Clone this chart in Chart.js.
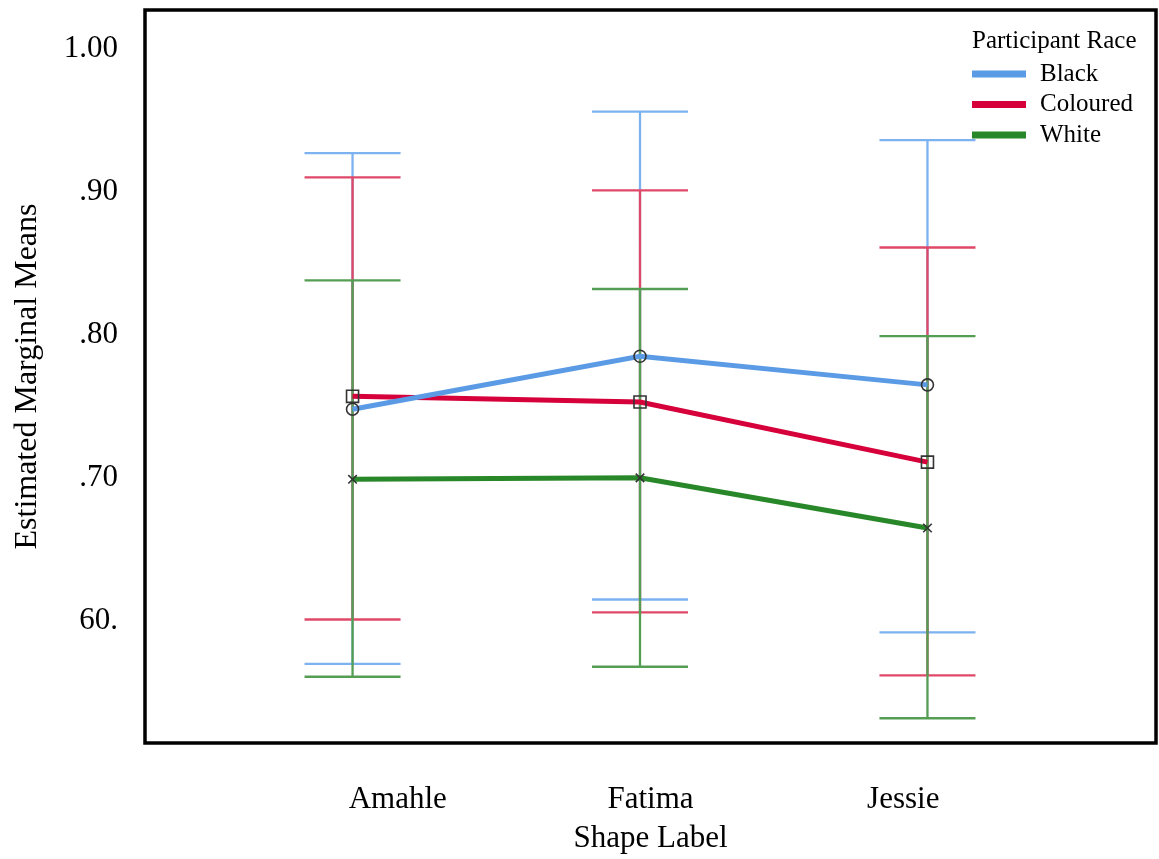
<!DOCTYPE html>
<html><head><meta charset="utf-8">
<script src="https://cdn.jsdelivr.net/npm/chart.js@4.4.1/dist/chart.umd.min.js"></script>
<style>html,body{margin:0;padding:0;background:#fff;} #wrap{position:relative;width:1159px;height:859px;}</style>
</head><body><div id="wrap"><canvas id="c" width="1159" height="859"></canvas></div>
<script>
// ---- data ----
const categories = ['Amahle', 'Fatima', 'Jessie'];
const seriesNames = ['Black', 'Coloured', 'White'];
const legendTitle = 'Participant Race';
const xTitle = 'Shape Label';
const yTitle = 'Estimated Marginal Means';

const blackMean  = [0.748, 0.785, 0.765];
const blackUpper = [0.927, 0.956, 0.936];
const blackLower = [0.570, 0.615, 0.592];

const colouredMean  = [0.757, 0.753, 0.711];
const colouredUpper = [0.910, 0.901, 0.861];
const colouredLower = [0.601, 0.606, 0.562];

const whiteMean  = [0.699, 0.700, 0.665];
const whiteUpper = [0.838, 0.832, 0.799];
const whiteLower = [0.561, 0.568, 0.532];

const yTickValues = [0.6, 0.7, 0.8, 0.9, 1.0];
const yTickLabels = ['60.', '.70', '.80', '.90', '1.00'];

// ---- styles ----
const meanColors = ['rgb(91,155,230)', 'rgb(214,0,58)', 'rgb(40,135,40)'];
const barColors  = ['rgb(125,178,240)', 'rgb(224,72,104)', 'rgb(84,158,84)'];
const pointStyles = ['circle', 'rect', 'crossRot'];
const pointRadii = [6, 8.5, 6];
const FONT = '"Liberation Serif", "Times New Roman", serif';
const CAP = 0.167;

function meanPoints(vals) { return vals.map((v, i) => ({ x: i + 1, y: v })); }
function whiskerPoints(upper, lower) {
  const pts = [];
  for (let i = 0; i < categories.length; i++) {
    const x = i + 1;
    pts.push({ x: x - CAP, y: upper[i] }, { x: x + CAP, y: upper[i] }, { x: x, y: null },
             { x: x, y: upper[i] }, { x: x, y: lower[i] }, { x: x, y: null },
             { x: x - CAP, y: lower[i] }, { x: x + CAP, y: lower[i] }, { x: x, y: null });
  }
  return pts;
}

const means = [blackMean, colouredMean, whiteMean];
const uppers = [blackUpper, colouredUpper, whiteUpper];
const lowers = [blackLower, colouredLower, whiteLower];

const datasets = [];
seriesNames.forEach((n, i) => {
  datasets.push({
    label: n, data: meanPoints(means[i]), borderColor: meanColors[i], backgroundColor: meanColors[i],
    borderWidth: 5, pointStyle: pointStyles[i], pointRadius: pointRadii[i], pointBorderColor: '#333',
    pointBackgroundColor: 'rgba(0,0,0,0)', pointBorderWidth: 1.6, order: i
  });
});
seriesNames.forEach((n, i) => {
  datasets.push({
    label: n + ' CI', data: whiskerPoints(uppers[i], lowers[i]), borderColor: barColors[i],
    borderWidth: 2.3, pointRadius: 0, spanGaps: false, order: 10 - i
  });
});

const legendPlugin = {
  id: 'raceLegend',
  afterDraw(chart) {
    const ctx = chart.ctx, ca = chart.chartArea;
    const x0 = ca.right - 184;
    ctx.save();
    ctx.font = '25px ' + FONT;
    ctx.fillStyle = '#000';
    ctx.textBaseline = 'middle';
    ctx.textAlign = 'left';
    ctx.fillText(legendTitle, x0, ca.top + 31);
    seriesNames.forEach((n, i) => {
      const y = ca.top + 64 + i * 30.5;
      ctx.fillStyle = meanColors[i];
      ctx.fillRect(x0, y - 3.5, 54, 7);
      ctx.fillStyle = '#000';
      ctx.fillText(n, x0 + 68, y);
    });
    ctx.restore();
  }
};
const framePlugin = {
  id: 'frame',
  afterDraw(chart) {
    const ctx = chart.ctx, ca = chart.chartArea;
    ctx.save();
    ctx.strokeStyle = '#000';
    ctx.lineWidth = 3.5;
    ctx.strokeRect(ca.left, ca.top, ca.right - ca.left, ca.bottom - ca.top);
    ctx.restore();
  }
};

Chart.defaults.font.family = FONT;
Chart.defaults.color = '#000';

new Chart(document.getElementById('c'), {
  type: 'line',
  data: { datasets },
  plugins: [legendPlugin, framePlugin],
  options: {
    responsive: false, animation: false,
    layout: { autoPadding: false, padding: { top: 10, right: 3, left: 0, bottom: 0 } },
    plugins: { legend: { display: false }, tooltip: { enabled: false } },
    scales: {
      x: {
        type: 'linear', min: 0.278, max: 3.795, display: false,
        grid: { display: false }, border: { display: false }
      },
      xLabels: {
        type: 'linear', position: 'bottom', min: 0, max: 4,
        grid: { display: false, drawTicks: false }, border: { display: false },
        afterBuildTicks: s => { s.ticks = categories.map((c, i) => ({ value: i + 1 })); },
        afterFit: s => { s.height = 116; s.paddingLeft = 0; s.paddingRight = 0; },
        ticks: { padding: 38, font: { size: 31 }, callback: v => categories[v - 1] },
        title: { display: true, text: xTitle, font: { size: 31 }, padding: { top: 2, bottom: 2 } }
      },
      y: {
        min: 0.5147, max: 1.027,
        grid: { display: false, drawTicks: false }, border: { display: false },
        afterBuildTicks: s => { s.ticks = yTickValues.map(v => ({ value: v })); },
        afterFit: s => { s.width = 145; s.paddingTop = 0; s.paddingBottom = 0; },
        ticks: { padding: 27, font: { size: 31 }, callback: v => { const k = yTickValues.findIndex(t => Math.abs(t - v) < 1e-6); return k >= 0 ? yTickLabels[k] : ''; } },
        title: { display: true, text: yTitle, font: { size: 32 }, padding: { top: 8, bottom: 8 } }
      }
    }
  }
});
</script></body></html>
